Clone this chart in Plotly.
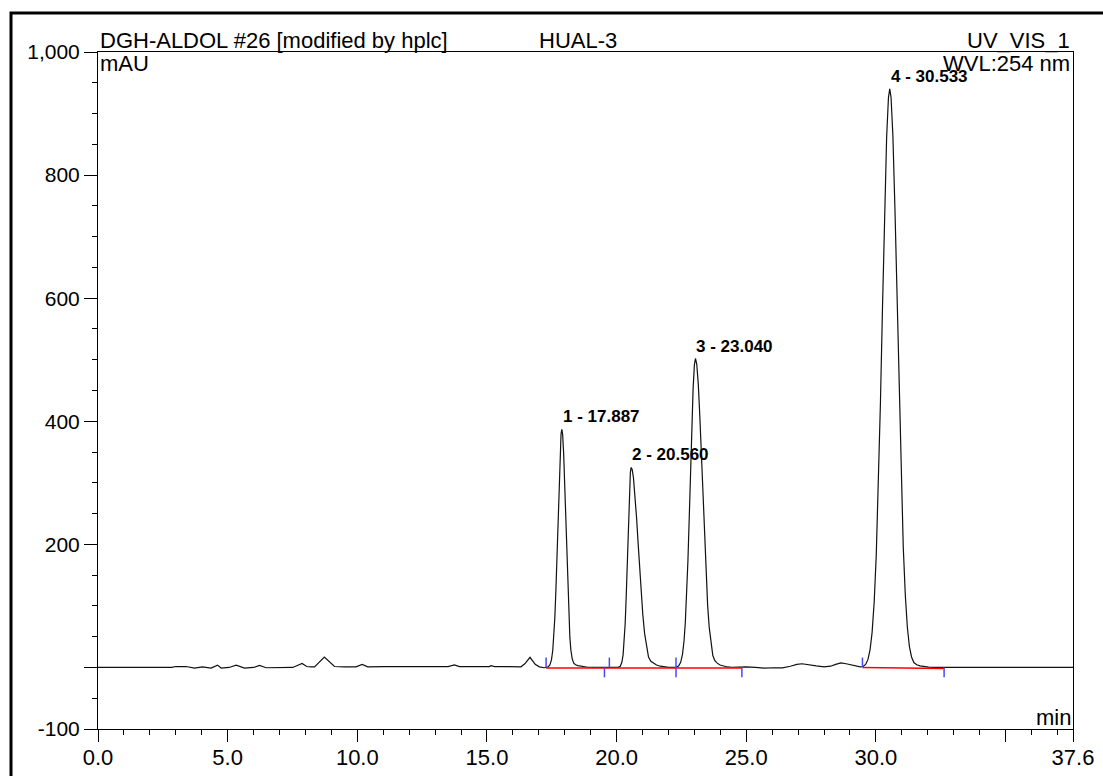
import plotly.graph_objects as go

# ---------------- data ----------------
time_min = [
    0.0, 2.85, 3.0, 3.4, 3.72, 4.03, 4.36, 4.61, 4.75, 5.05, 5.33, 5.65, 6.0, 6.23, 6.48,
    7.0, 7.51, 7.87, 8.05, 8.22, 8.35, 8.73, 9.12, 9.5, 9.95, 10.19, 10.4, 11.0, 12.5,
    13.5, 13.74, 13.94, 15.09, 15.16, 15.29, 16.31, 16.46, 16.66, 16.86, 17.02, 17.21,
    # peak 1
    17.357, 17.427, 17.487, 17.537, 17.577, 17.617, 17.657, 17.697, 17.737, 17.777, 17.817, 17.857,
    17.887,
    17.917, 17.957, 17.997, 18.037, 18.077, 18.117, 18.157, 18.197, 18.237, 18.287, 18.347, 18.417,
    18.507, 18.607, 18.737, 18.887, 19.2, 19.6, 20.0,
    # peak 2
    20.06, 20.14, 20.20, 20.25, 20.29, 20.33, 20.37, 20.41, 20.45, 20.49, 20.53,
    20.56,
    20.60, 20.65, 20.71, 20.77, 20.83, 20.89, 20.95, 21.01, 21.08, 21.15, 21.23, 21.32, 21.42,
    21.54, 21.68, 21.84, 22.01, 22.2,
    # peak 3
    22.30, 22.39, 22.47, 22.54, 22.60, 22.65, 22.70, 22.75, 22.80, 22.85, 22.90, 22.95, 23.00,
    23.04,
    23.09, 23.15, 23.21, 23.27, 23.33, 23.39, 23.45, 23.51, 23.57, 23.64, 23.71, 23.79, 23.88,
    23.99, 24.12, 24.27, 24.44,
    # baseline between peak 3 and 4
    24.7, 25.0, 25.35, 25.7, 26.05, 26.4, 26.7, 26.95, 27.15, 27.4, 27.7, 28.0, 28.25, 28.45,
    28.65, 28.85, 29.1, 29.3,
    # peak 4
    29.393, 29.503, 29.603, 29.693, 29.773, 29.853, 29.933, 30.013, 30.093, 30.173, 30.253,
    30.333, 30.413, 30.483,
    30.533,
    30.583, 30.653, 30.733, 30.813, 30.893, 30.973, 31.053, 31.133, 31.213, 31.293, 31.373,
    31.463, 31.573, 31.703, 31.853, 32.033, 32.233, 32.6, 37.6,
]
signal_mau = [
    0, 0, 1.5, 1.5, -1, 1, -1, 3.8, -1, 0, 3.8, -1, 0, 3.2, -0.5,
    0, 0, 6.5, 1.5, 1, 1, 17, 1.5, 1, 1, 5, 1, 1.5, 1.5,
    1.5, 4, 1.5, 1.5, 3, 1.5, 1, 6, 16.5, 5, 1, -0.5,
    # peak 1
    0.9, 4.0, 12.3, 27.6, 48.8, 80.4, 123.8, 177.7, 238.3, 298, 348.2, 379.6,
    387,
    379.6, 348.2, 298, 238.3, 177.7, 123.8, 80.4, 48.8, 28, 14, 7, 4.5,
    3, 2, 1, 0.3, 0, 0, 0,
    # peak 2
    0.25, 2.0, 7.9, 20.5, 40.0, 71.1, 115.2, 170.2, 229.5, 282.4, 316.7,
    325,
    321.6, 308.1, 280.2, 243.1, 201.2, 158.9, 119.6, 85.8, 54.9, 32.9, 17, 10, 7,
    4, 2, 0.7, 0.2, 0,
    # peak 3
    0.5, 2.4, 8.3, 21.3, 43.4, 73.4, 116.4, 173.4, 242.4, 318, 392, 453, 492,
    502,
    493, 460, 407, 342, 273, 206.6, 148.5, 101.3, 65.6, 37, 19.4, 11, 7,
    4, 2, 0.8, 0.3,
    # baseline between peak 3 and 4
    0.5, 1, 0, -1, -0.5, -0.8, 2, 5, 6, 4, 2.5, 1, 2, 5,
    7.5, 6, 3.5, 1.5,
    # peak 4
    0.8, 1.5, 5.0, 13.1, 28.4, 57, 106.3, 182.7, 290.7, 428.6, 584.6,
    737.8, 861.4, 925.9,
    940,
    926.5, 865, 746, 597.6, 444.5, 307, 197, 117.3, 64.9, 33.3, 17,
    8, 4.5, 2.5, 1.2, 0.5, 0.2, 0, 0,
]

peak_numbers = [1, 2, 3, 4]
peak_times = [17.887, 20.560, 23.040, 30.533]
peak_heights = [387, 325, 502, 940]

# integration baselines (red) and peak delimiters (blue)
baseline_start_t = [17.28, 29.48]
baseline_end_t = [24.83, 32.63]
baseline_start_v = [-0.8, 0.0]
baseline_end_v = [-0.8, -1.5]
delimiter_t = [17.28, 19.53, 19.72, 22.29, 24.83, 29.48, 32.63]
delimiter_kind = ["start", "end", "start", "both", "end", "start", "end"]

x_tick_vals = [0, 5, 10, 15, 20, 25, 30, 35, 37.6]
x_tick_text = ["0.0", "5.0", "10.0", "15.0", "20.0", "25.0", "30.0", "", "37.6"]
x_minor_vals = [v for v in range(0, 38) if v % 5 != 0]
y_tick_vals = [-100, 0, 200, 400, 600, 800, 1000]
y_tick_text = ["-100", "", "200", "400", "600", "800", "1,000"]
y_minor_vals = [v for v in range(-50, 1000, 50) if v % 200 != 0]

# ---------------- layout geometry (pixels) ----------------
W, H = 1103, 776
ML, MR, MT, MB = 98, 30, 52, 47
PW, PH = W - ML - MR, H - MT - MB


def px(xp):
    return (xp - ML) / PW


def py(yp):
    return (H - MB - yp) / PH


FONT = "Liberation Sans, Arial, Helvetica, sans-serif"
MARK = 16  # delimiter tick length in mAU units

fig = go.Figure()
fig.add_trace(go.Scatter(x=time_min, y=signal_mau, mode="lines",
                         line=dict(color="#111111", width=1.2), hoverinfo="skip"))

for s, e, vs, ve in zip(baseline_start_t, baseline_end_t, baseline_start_v, baseline_end_v):
    fig.add_trace(go.Scatter(x=[s, e], y=[vs, ve], mode="lines",
                             line=dict(color="#ff0000", width=1.5), hoverinfo="skip"))

bx, by = [], []
for t, k in zip(delimiter_t, delimiter_kind):
    lo = -MARK if k in ("end", "both") else 0
    hi = MARK if k in ("start", "both") else 0
    bx += [t, t, None]
    by += [lo, hi, None]
fig.add_trace(go.Scatter(x=bx, y=by, mode="lines",
                         line=dict(color="#4848ff", width=1.5), hoverinfo="skip"))

annotations = []
for n, t, h in zip(peak_numbers, peak_times, peak_heights):
    annotations.append(dict(x=t, y=h, xref="x", yref="y", text=f"<b>{n} - {t:.3f}</b>",
                            showarrow=False, xanchor="left", yanchor="bottom",
                            xshift=-1, yshift=1,
                            font=dict(family=FONT, size=17, color="#000")))

hdr = dict(showarrow=False, xref="paper", yref="paper",
           font=dict(family=FONT, size=22, color="#000"))
annotations += [
    dict(hdr, x=px(98), y=py(41), text="DGH-ALDOL #26 [modified by hplc]",
         xanchor="left", yanchor="middle"),
    dict(hdr, x=px(578), y=py(41), text="HUAL-3", xanchor="center", yanchor="middle"),
    dict(hdr, x=px(1072), y=py(40), text="UV_VIS_1", xanchor="right", yanchor="middle"),
    dict(hdr, x=px(98), y=py(63), text="mAU", xanchor="left", yanchor="middle"),
    dict(hdr, x=px(1072), y=py(63), text="WVL:254 nm", xanchor="right", yanchor="middle"),
    dict(hdr, x=px(1073), y=py(717), text="min", xanchor="right", yanchor="middle"),
]

fig.update_layout(
    width=W, height=H,
    margin=dict(l=ML, r=MR, t=MT, b=MB, pad=0, autoexpand=False),
    paper_bgcolor="white", plot_bgcolor="white",
    showlegend=False,
    font=dict(family=FONT, size=20, color="#000"),
    annotations=annotations,
    shapes=[dict(type="rect", xref="paper", yref="paper",
                 x0=px(11), x1=px(1120), y0=py(800), y1=py(13),
                 line=dict(color="#000", width=3), fillcolor="rgba(0,0,0,0)")],
    xaxis=dict(range=[0, 37.6], showline=True, linecolor="#000", linewidth=1, mirror=True,
               automargin=False,
               ticks="outside", ticklen=12, tickwidth=1, tickcolor="#000",
               tickmode="array", tickvals=x_tick_vals, ticktext=x_tick_text,
               ticklabelstandoff=-3,
               tickfont=dict(size=22), showgrid=False, zeroline=False,
               minor=dict(tickmode="array", tickvals=x_minor_vals, ticks="outside",
                          ticklen=5, tickwidth=1, tickcolor="#000", showgrid=False)),
    yaxis=dict(range=[-100, 1000], showline=True, linecolor="#000", linewidth=1, mirror=True,
               automargin=False,
               ticks="outside", ticklen=13, tickwidth=1, tickcolor="#000",
               tickmode="array", tickvals=y_tick_vals, ticktext=y_tick_text,
               tickfont=dict(size=21), showgrid=False, zeroline=False,
               minor=dict(tickmode="array", tickvals=y_minor_vals, ticks="outside",
                          ticklen=5, tickwidth=1, tickcolor="#000", showgrid=False)),
)

fig.write_html("out.html")
